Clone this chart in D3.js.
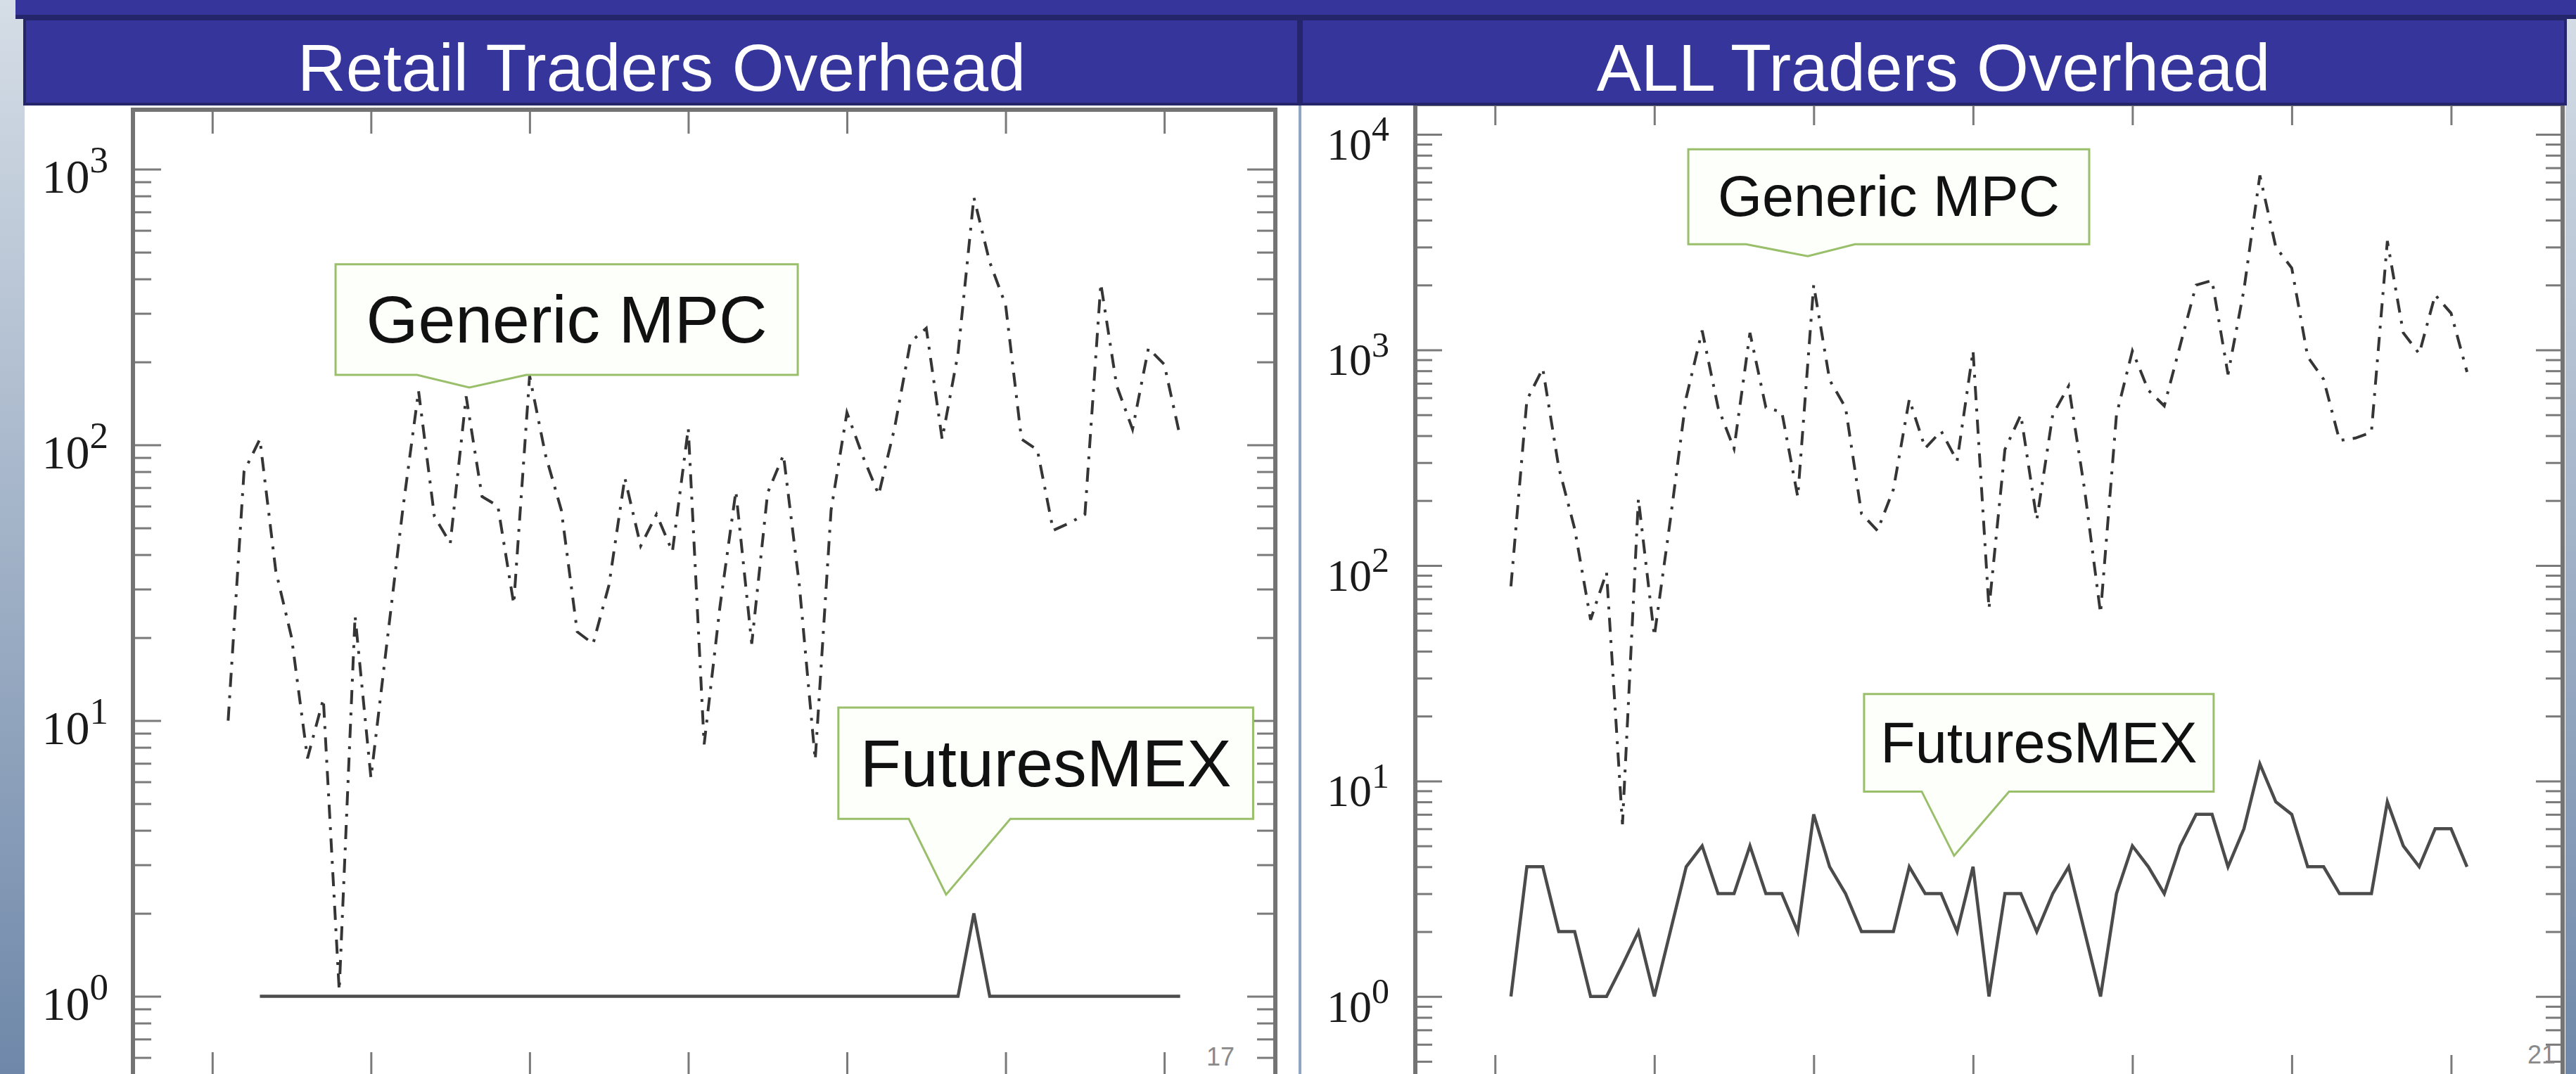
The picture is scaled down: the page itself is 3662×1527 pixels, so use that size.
<!DOCTYPE html>
<html>
<head>
<meta charset="utf-8">
<script src="https://cdn.jsdelivr.net/npm/d3@7"></script>
<style>
  html, body { margin: 0; padding: 0; background: #ffffff; }
  svg { display: block; }
</style>
</head>
<body>
<svg id="chart" width="3662" height="1527"></svg>
<script>
// ---- data -------------------------------------------------------------
// run index on the x axis (one point per run)
const runs = d3.range(1, 62);
const retailMexRuns = d3.range(3, 62);

// Retail traders: per-run overhead
const retailGenericMPC = [
  10, 80, 105, 35, 20, 7.3, 12, 1.05, 24, 6.2,
  19, 58, 157, 55, 44, 150, 65, 60, 26.5, 178,
  92, 58, 21, 19, 31, 76, 43, 56, 41, 115,
  8.2, 26, 68, 19, 67, 92, 31, 7.2, 58, 131,
  91, 66, 115, 236, 265, 105, 214, 790, 460, 322,
  105, 96, 49, 52, 56, 385, 164, 114, 224, 196,
  107
];
const retailFuturesMEX = [
  1, 1, 1, 1, 1, 1, 1, 1, 1, 1,
  1, 1, 1, 1, 1, 1, 1, 1, 1, 1,
  1, 1, 1, 1, 1, 1, 1, 1, 1, 1,
  1, 1, 1, 1, 1, 1, 1, 1, 1, 1,
  1, 1, 1, 1, 1, 2, 1, 1, 1, 1,
  1, 1, 1, 1, 1, 1, 1, 1, 1
];

// All traders: per-run overhead
const allGenericMPC = [
  80, 585, 820, 285, 148, 56, 93, 6.3, 204, 47,
  162, 600, 1230, 540, 348, 1200, 540, 515, 208, 2000,
  725, 540, 174, 145, 225, 590, 350, 420, 305, 990,
  63, 345, 500, 163, 500, 680, 225, 60, 500, 990,
  650, 550, 1050, 2000, 2100, 770, 1900, 6450, 3000, 2400,
  930, 730, 380, 390, 415, 3200, 1200, 960, 1800, 1480,
  790
];
const allFuturesMEX = [
  1, 4, 4, 2, 2, 1, 1, 1.4, 2, 1,
  2, 4, 5, 3, 3, 5, 3, 3, 2, 7,
  4, 3, 2, 2, 2, 4, 3, 3, 2, 4,
  1, 3, 3, 2, 3, 4, 2, 1, 3, 5,
  4, 3, 5, 7, 7, 4, 6, 12, 8, 7,
  4, 4, 3, 3, 3, 8, 5, 4, 6, 6,
  4
];

const xTicks = [0, 10, 20, 30, 40, 50, 60];
const panelTitles = ["Retail Traders Overhead", "ALL Traders Overhead"];
const seriesNames = ["Generic MPC", "FuturesMEX"];
const cornerNotes = ["17", "21"];

// ---- page -------------------------------------------------------------
const W = 3662, H = 1527;
const svg = d3.select("#chart");
const defs = svg.append("defs");

const side = defs.append("linearGradient").attr("id", "sideGrad")
  .attr("x1", 0).attr("y1", 0).attr("x2", 0).attr("y2", 1);
side.append("stop").attr("offset", "0%").attr("stop-color", "#d5dde6");
side.append("stop").attr("offset", "100%").attr("stop-color", "#6f88a9");

svg.append("rect").attr("width", W).attr("height", H).attr("fill", "url(#sideGrad)");

const headerFill = "#35359b", headerEdge = "#25256c";

// slide title strip along the top
svg.append("rect").attr("x", 22).attr("y", 0).attr("width", W - 22).attr("height", 24)
  .attr("fill", headerFill);
svg.append("rect").attr("x", 22).attr("y", 21).attr("width", W - 22).attr("height", 6)
  .attr("fill", headerEdge);

const panels = [
  { x0: 35, x1: 1846 },
  { x0: 1850, x1: 3647 }
];

panels.forEach(p => {
  svg.append("rect").attr("x", p.x0).attr("y", 140).attr("width", p.x1 - p.x0)
    .attr("height", H - 140).attr("fill", "#ffffff");
});
// divider between the two panels
svg.append("rect").attr("x", 1846).attr("y", 140).attr("width", 4).attr("height", H - 140)
  .attr("fill", "#8fa3c2");

// ---- plots ------------------------------------------------------------
function minorTicks(lo, hi) {
  const out = [];
  for (let e = Math.floor(Math.log10(lo)); e <= Math.ceil(Math.log10(hi)); e++) {
    for (let m = 2; m <= 9; m++) {
      const v = m * Math.pow(10, e);
      if (v > lo && v < hi) out.push(v);
    }
  }
  return out;
}
function majorTicks(lo, hi) {
  const out = [];
  for (let e = Math.ceil(Math.log10(lo)); e <= Math.floor(Math.log10(hi)); e++) out.push(Math.pow(10, e));
  return out;
}

function drawPlot(cfg) {
  const x = d3.scaleLinear().domain([-5, 67]).range([cfg.left, cfg.right]);
  const y = d3.scaleLog().domain(cfg.yDomain).range([cfg.bottom, cfg.top]);
  const g = svg.append("g");
  const tickColor = "#7a7a7a";

  const majors = majorTicks(cfg.yDomain[0], cfg.yDomain[1]);
  const minors = minorTicks(cfg.yDomain[0], cfg.yDomain[1]);

  const styleAxis = sel => {
    sel.select(".domain").remove();
    sel.selectAll(".tick line").attr("stroke", tickColor).attr("stroke-width", 3);
    sel.selectAll(".tick text").remove();
  };

  // y ticks, left and right edges, pointing inward
  g.append("g").attr("transform", `translate(${cfg.left},0)`)
    .call(d3.axisLeft(y).tickValues(majors).tickSize(-cfg.majorLen).tickFormat(""))
    .call(styleAxis);
  g.append("g").attr("transform", `translate(${cfg.left},0)`)
    .call(d3.axisLeft(y).tickValues(minors).tickSize(-cfg.minorLen).tickFormat(""))
    .call(styleAxis);
  g.append("g").attr("transform", `translate(${cfg.right},0)`)
    .call(d3.axisRight(y).tickValues(majors).tickSize(-cfg.majorLen).tickFormat(""))
    .call(styleAxis);
  g.append("g").attr("transform", `translate(${cfg.right},0)`)
    .call(d3.axisRight(y).tickValues(minors).tickSize(-cfg.minorLen).tickFormat(""))
    .call(styleAxis);

  // x ticks on top and bottom
  g.append("g").attr("transform", `translate(0,${cfg.top})`)
    .call(d3.axisTop(x).tickValues(xTicks).tickSize(-cfg.xTickLen).tickFormat(""))
    .call(styleAxis);
  g.append("g").attr("transform", `translate(0,${cfg.bottom})`)
    .call(d3.axisBottom(x).tickValues(xTicks).tickSize(-cfg.xTickLen).tickFormat(""))
    .call(styleAxis);

  // frame
  g.append("rect")
    .attr("x", cfg.left).attr("y", cfg.top)
    .attr("width", cfg.right - cfg.left).attr("height", cfg.bottom - cfg.top)
    .attr("fill", "none").attr("stroke", "#747474").attr("stroke-width", 6);

  // y tick labels: 10^k
  majors.forEach(v => {
    const t = g.append("text")
      .attr("x", cfg.left - cfg.labelGap)
      .attr("y", y(v) + cfg.labelDrop)
      .attr("text-anchor", "end")
      .attr("font-family", "'Liberation Serif', 'DejaVu Serif', serif")
      .attr("font-size", cfg.labelSize)
      .attr("fill", "#1a1a1a");
    t.append("tspan").text("10");
    t.append("tspan").attr("dy", -cfg.labelSize * 0.42).attr("font-size", cfg.labelSize * 0.78)
      .text(Math.round(Math.log10(v)));
  });

  const line = d3.line().x(d => x(d[0])).y(d => y(d[1]));

  // FuturesMEX: solid
  g.append("path")
    .datum(d3.zip(cfg.mexRuns, cfg.mex))
    .attr("d", line)
    .attr("fill", "none")
    .attr("stroke", "#4b4b4b")
    .attr("stroke-width", 4.5)
    .attr("stroke-linejoin", "miter");

  // Generic MPC: dash-dotted
  g.append("path")
    .datum(d3.zip(runs, cfg.mpc))
    .attr("d", line)
    .attr("fill", "none")
    .attr("stroke", "#353535")
    .attr("stroke-width", 4)
    .attr("stroke-dasharray", "20,12,4,12");

  // corner note
  g.append("text")
    .attr("x", cfg.right - cfg.noteInset)
    .attr("y", cfg.noteY)
    .attr("text-anchor", "end")
    .attr("font-family", "'Liberation Sans', Arial, sans-serif")
    .attr("font-size", 36)
    .attr("fill", "#8a8a8a")
    .text(cfg.note);

  // callouts, placed in data coordinates
  cfg.callouts.forEach(c => {
    const bx0 = x(c.x0), bx1 = x(c.x1), by0 = y(c.top), by1 = y(c.bottom);
    const na = x(c.notch[0]), nb = x(c.notch[1]);
    const tx = x(c.tip[0]), ty = y(c.tip[1]);
    const path = `M${bx0},${by0}H${bx1}V${by1}H${nb}L${tx},${ty}L${na},${by1}H${bx0}Z`;
    g.append("path").attr("d", path)
      .attr("fill", "#fdfffb")
      .attr("stroke", "#99bf6b")
      .attr("stroke-width", 3);
    g.append("text")
      .attr("x", (bx0 + bx1) / 2)
      .attr("y", (by0 + by1) / 2 + c.size * 0.34)
      .attr("text-anchor", "middle")
      .attr("font-family", "'Liberation Sans', Arial, sans-serif")
      .attr("font-size", c.size)
      .attr("fill", "#111111")
      .text(c.text);
  });
}

drawPlot({
  left: 189, right: 1813, top: 156, bottom: 1530,
  yDomain: [Math.pow(10, -0.2893), Math.pow(10, 3.2158)],
  majorLen: 40, minorLen: 26, xTickLen: 34,
  labelGap: 35, labelDrop: 33, labelSize: 68,
  mpc: retailGenericMPC, mex: retailFuturesMEX, mexRuns: retailMexRuns,
  note: cornerNotes[0], noteInset: 58, noteY: 1515,
  callouts: [
    { text: seriesNames[0], size: 95, x0: 7.77, x1: 36.9, top: 452, bottom: 179.5,
      notch: [12.9, 19.8], tip: [16.2, 161.5] },
    { text: seriesNames[1], size: 95, x0: 39.46, x1: 65.6, top: 11.15, bottom: 4.4,
      notch: [43.9, 50.3], tip: [46.25, 2.34] }
  ]
});

drawPlot({
  left: 2012, right: 3643, top: 148, bottom: 1530,
  yDomain: [Math.pow(10, -0.3693), Math.pow(10, 4.1405)],
  majorLen: 38, minorLen: 24, xTickLen: 30,
  labelGap: 37, labelDrop: 36, labelSize: 64,
  mpc: allGenericMPC, mex: allFuturesMEX, mexRuns: runs,
  note: cornerNotes[1], noteInset: 10, noteY: 1512,
  callouts: [
    { text: seriesNames[0], size: 81, x0: 12.13, x1: 37.29, top: 8531, bottom: 3090,
      notch: [15.75, 22.59], tip: [19.63, 2722] },
    { text: seriesNames[1], size: 81, x0: 23.16, x1: 45.1, top: 25.3, bottom: 8.93,
      notch: [26.78, 32.26], tip: [28.81, 4.5] }
  ]
});

// ---- panel headers ------------------------------------------------------
panels.forEach((p, i) => {
  svg.append("rect").attr("x", p.x0).attr("y", 27).attr("width", p.x1 - p.x0).attr("height", 121)
    .attr("fill", headerFill).attr("stroke", headerEdge).attr("stroke-width", 4);
  svg.append("text")
    .attr("x", (p.x0 + p.x1) / 2).attr("y", 129)
    .attr("text-anchor", "middle")
    .attr("font-family", "'Liberation Sans', Arial, sans-serif")
    .attr("font-size", 95)
    .attr("fill", "#ffffff")
    .text(panelTitles[i]);
});
</script>
</body>
</html>
